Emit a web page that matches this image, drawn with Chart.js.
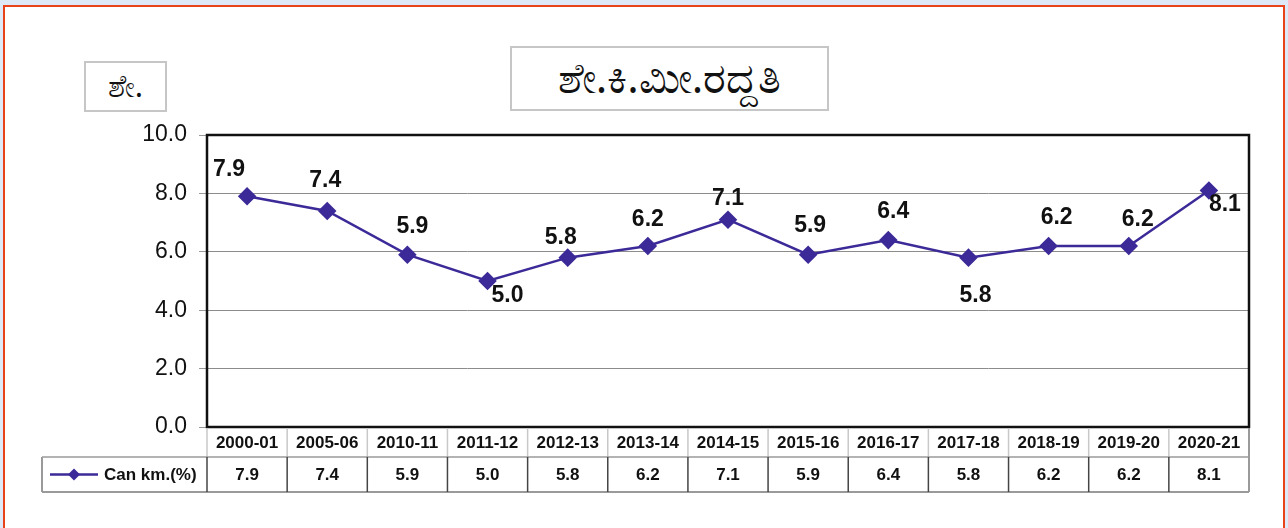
<!DOCTYPE html>
<html>
<head>
<meta charset="utf-8">
<script src="https://cdn.jsdelivr.net/npm/chart.js@4.4.0/dist/chart.umd.min.js"></script>
<style>
  html, body { margin: 0; padding: 0; }
  body { width: 1288px; height: 528px; background: #dde9f7; position: relative; overflow: hidden; }
  #page { position: absolute; left: 3px; top: 5px; width: 1282px; height: 530px; background: #fff;
          border: 2px solid #e8431b; box-sizing: border-box; }
  #wrap { position: absolute; left: 0; top: 0; width: 1288px; height: 528px; }
  .box { position: absolute; background: #fff; border: 2px solid #c6c6c6; box-sizing: border-box;
         display: flex; align-items: center; justify-content: center; color: #111;
         font-family: "Noto Sans", "Liberation Sans", sans-serif; }
  #title { left: 510px; top: 46px; width: 319px; height: 65px; font-size: 43px; padding-bottom: 4px; }
  #ylab { left: 84px; top: 61px; width: 83px; height: 51px; font-size: 31px; padding-bottom: 3px; }
</style>
</head>
<body>
<div id="page"></div>
<div id="wrap"><canvas id="chart" width="1288" height="528"></canvas></div>
<div class="box" id="title">ಶೇ.ಕಿ.ಮೀ.ರದ್ದತಿ</div>
<div class="box" id="ylab">ಶೇ.</div>
<script>
// ವರ್ಷಗಳು
const years = ['2000-01', '2005-06', '2010-11', '2011-12', '2012-13', '2013-14', '2014-15',
               '2015-16', '2016-17', '2017-18', '2018-19', '2019-20', '2020-21'];
// Can km.(%)
const cancelPct = [7.9, 7.4, 5.9, 5.0, 5.8, 6.2, 7.1, 5.9, 6.4, 5.8, 6.2, 6.2, 8.1];
const seriesName = 'Can km.(%)';
const yTicks = [0, 2, 4, 6, 8, 10];

const lineColor = '#3b2a98';

// where each value label sits relative to its point
const labelNudge = [[-18, -27], [-2, -30], [5, -28], [20, 15], [-7, -20], [0, -26], [0, -21],
                    [2, -29], [5, -28], [7, 38], [8, -28], [9, -26], [16, 14]];

const extras = {
    id: 'extras',
    afterDatasetsDraw(chart) {
        const ctx = chart.ctx;
        const a = chart.chartArea;
        const xs = chart.scales.x;
        const meta = chart.getDatasetMeta(0);

        // plot frame
        ctx.save();
        ctx.strokeStyle = '#111';
        ctx.lineWidth = 2.5;
        ctx.strokeRect(a.left, a.top, a.right - a.left, a.bottom - a.top);

        // value labels
        ctx.font = 'bold 23px "Liberation Sans", Arial, sans-serif';
        ctx.fillStyle = '#111';
        ctx.textAlign = 'center';
        ctx.textBaseline = 'middle';
        meta.data.forEach((pt, i) => {
            ctx.fillText(cancelPct[i].toFixed(1), pt.x + labelNudge[i][0], pt.y + labelNudge[i][1]);
        });

        // data table
        const step = (a.right - a.left) / years.length;
        const r0 = a.bottom + 1, r1 = r0 + 29, r2 = r1 + 35;
        const legL = 42;

        ctx.lineWidth = 1.5;
        ctx.strokeStyle = '#c8c8c8';
        for (let i = 0; i <= years.length; i++) {
            const x = a.left + i * step;
            ctx.beginPath(); ctx.moveTo(x, r0); ctx.lineTo(x, r1); ctx.stroke();
        }
        ctx.strokeStyle = '#9a9a9a';
        ctx.beginPath(); ctx.moveTo(legL, r1); ctx.lineTo(a.right, r1); ctx.stroke();
        ctx.lineWidth = 2;
        ctx.beginPath(); ctx.moveTo(legL, r2); ctx.lineTo(a.right, r2); ctx.stroke();
        ctx.beginPath(); ctx.moveTo(legL, r1); ctx.lineTo(legL, r2); ctx.stroke();
        ctx.beginPath(); ctx.moveTo(a.right, r0); ctx.lineTo(a.right, r2); ctx.stroke();
        ctx.lineWidth = 1.5;
        ctx.strokeStyle = '#444';
        for (let i = 0; i < years.length; i++) {
            const x = a.left + i * step;
            ctx.beginPath(); ctx.moveTo(x, r1); ctx.lineTo(x, r2); ctx.stroke();
        }

        ctx.font = 'bold 17px "Liberation Sans", Arial, sans-serif';
        ctx.fillStyle = '#111';
        years.forEach((y, i) => {
            const x = xs.getPixelForValue(i);
            ctx.fillText(y, x, (r0 + r1) / 2 + 1);
            ctx.fillText(cancelPct[i].toFixed(1), x, (r1 + r2) / 2 + 1);
        });

        // legend key
        const ly = (r1 + r2) / 2;
        ctx.strokeStyle = lineColor;
        ctx.lineWidth = 2.5;
        ctx.beginPath(); ctx.moveTo(50, ly); ctx.lineTo(98, ly); ctx.stroke();
        ctx.fillStyle = lineColor;
        ctx.beginPath();
        ctx.moveTo(74, ly - 6); ctx.lineTo(80, ly); ctx.lineTo(74, ly + 6); ctx.lineTo(68, ly);
        ctx.closePath(); ctx.fill();
        ctx.fillStyle = '#111';
        ctx.textAlign = 'left';
        ctx.fillText(seriesName, 104, ly + 1);
        ctx.restore();
    }
};

new Chart(document.getElementById('chart'), {
    type: 'line',
    data: {
        labels: years,
        datasets: [{
            label: seriesName,
            data: cancelPct,
            borderColor: lineColor,
            backgroundColor: lineColor,
            borderWidth: 2.5,
            pointStyle: 'rectRot',
            pointRadius: 7.5,
            pointHoverRadius: 7.5,
            tension: 0,
            fill: false
        }]
    },
    options: {
        responsive: false,
        animation: false,
        layout: { padding: { left: 0, top: 135, right: 39, bottom: 101 } },
        plugins: { legend: { display: false }, tooltip: { enabled: false } },
        scales: {
            x: {
                display: false,
                offset: true
            },
            y: {
                min: 0,
                max: 10,
                afterFit(s) { s.width = 207; },
                afterBuildTicks(s) { s.ticks = yTicks.map(v => ({ value: v })); },
                grid: { color: '#8c8c8c', lineWidth: 1, tickLength: 8, tickColor: '#999' },
                border: { display: false },
                ticks: {
                    padding: 12,
                    color: '#111',
                    font: { family: '"Liberation Sans", Arial, sans-serif', size: 23 },
                    callback: v => v.toFixed(1)
                }
            }
        }
    },
    plugins: [extras]
});
</script>
</body>
</html>
